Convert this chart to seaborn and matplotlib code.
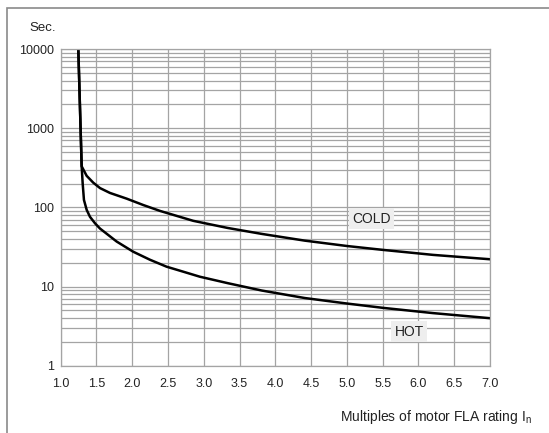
import numpy as np
import pandas as pd
import matplotlib
matplotlib.use("Agg")
import matplotlib.pyplot as plt
import seaborn as sns
from matplotlib.patches import Rectangle

# Trip curves (x = multiples of FLA, y = seconds)
cold_x = [1.246, 1.293, 1.363, 1.455, 1.55, 1.689, 1.922, 2.154, 2.387, 2.852,
          3.33, 3.81, 4.41, 5.0, 5.506, 6.204, 7.0]
cold_y = [10000, 330, 250, 205, 175, 152, 128.8, 107, 90.2, 67.6,
          55, 46.2, 38, 32.5, 29, 25.1, 22.1]
hot_x = [1.246, 1.293, 1.307, 1.325, 1.363, 1.409, 1.479, 1.549, 1.782, 2.014,
         2.247, 2.48, 2.712, 2.945, 3.34, 3.81, 4.41, 5.0, 5.51, 6.2, 7.0]
hot_y = [10000, 330, 201, 124, 93, 76, 63, 54, 37, 27.5,
         21.8, 17.8, 15.4, 13.3, 11.0, 8.9, 7.16, 6.1, 5.37, 4.62, 3.98]

x_ticks = [1.0, 1.5, 2.0, 2.5, 3.0, 3.5, 4.0, 4.5, 5.0, 5.5, 6.0, 6.5, 7.0]
y_ticks = [1, 10, 100, 1000, 10000]
y_tick_labels = ["1", "10", "100", "1000", "10000"]

curves = pd.concat([
    pd.DataFrame({"x": cold_x, "y": cold_y, "curve": "COLD"}),
    pd.DataFrame({"x": hot_x, "y": hot_y, "curve": "HOT"}),
], ignore_index=True)

sns.set_style("white")
plt.rcParams["font.family"] = ["Liberation Sans", "DejaVu Sans"]
plt.rcParams["mathtext.default"] = "regular"

W, H = 549, 433
fig = plt.figure(figsize=(W / 100, H / 100), dpi=100)
ax = fig.add_axes([60.7 / W, 1 - 365.7 / H, (490 - 60.7) / W, (365.7 - 49) / H])

grid_c = "#a4a4a4"
ax.set_yscale("log")
ax.set_xlim(1.0, 7.0)
ax.set_ylim(1, 10000)
ax.set_xticks(x_ticks)
ax.set_xticklabels([f"{v:.1f}" for v in x_ticks], fontsize=9, color="#222222")
ax.set_yticks(y_ticks)
ax.set_yticklabels(y_tick_labels, fontsize=9, color="#222222")
ax.yaxis.set_minor_locator(matplotlib.ticker.LogLocator(base=10, subs=np.arange(2, 10)))
ax.yaxis.set_minor_formatter(matplotlib.ticker.NullFormatter())
ax.tick_params(axis="x", length=0, pad=9)
ax.tick_params(axis="y", which="major", length=4, width=0.8, color=grid_c, pad=1)
ax.tick_params(axis="y", which="minor", length=0)
ax.grid(True, which="major", axis="both", color=grid_c, lw=0.9)
ax.grid(True, which="minor", axis="y", color=grid_c, lw=0.9)
for s in ax.spines.values():
    s.set_color(grid_c)
    s.set_linewidth(0.9)

sns.lineplot(data=curves, x="x", y="y", hue="curve", palette=["black", "black"],
             sort=False, estimator=None, legend=False, lw=1.8, ax=ax)
ax.set_xlabel("")
ax.set_ylabel("")

box = dict(facecolor="#eeeeee", edgecolor="none", pad=2.5)
ax.text(5.343, 71.4, "COLD", ha="center", va="center", fontsize=10, color="#222222", bbox=box)
ax.text(5.869, 2.70, "HOT", ha="center", va="center", fontsize=10, color="#222222", bbox=box)

fig.text(43 / W, 1 - 28 / H, "Sec.", ha="center", va="center", fontsize=9.5, color="#222222")
fig.text(436 / W, 1 - 417 / H, r"Multiples of motor FLA rating I$_{n}$",
         ha="center", va="center", fontsize=10, color="#222222")

# outer frame of the figure
fig.patches.append(Rectangle((7 / W, -0.1), 1.2, 1.1 - 7.5 / H, transform=fig.transFigure,
                             fill=False, edgecolor="#8a8a8a", lw=1.2))

fig.savefig("out.png", dpi=100)
